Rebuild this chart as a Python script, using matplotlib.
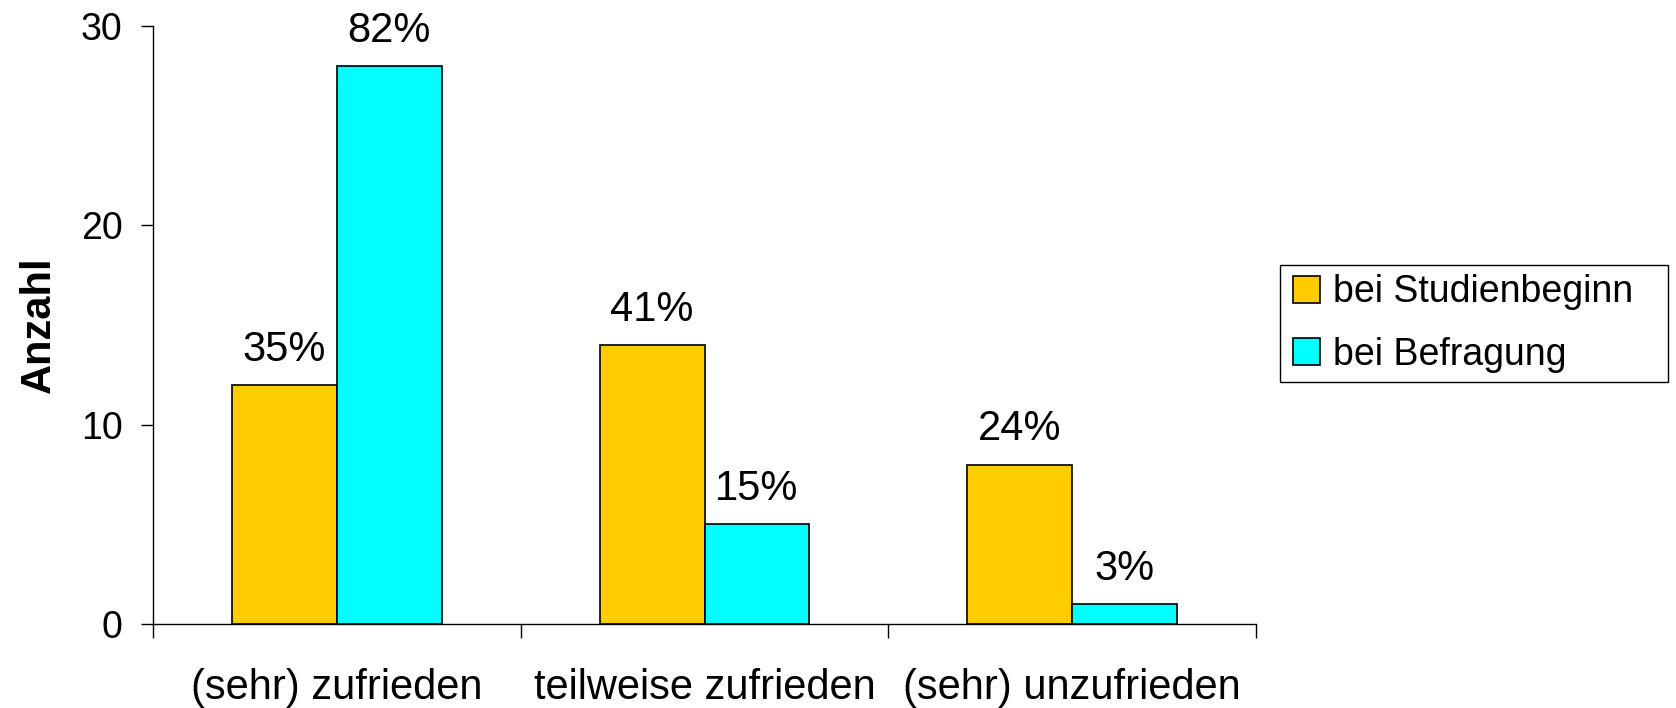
import matplotlib.pyplot as plt
from matplotlib.patches import Rectangle
import numpy as np

plt.rcParams['font.family'] = ['Liberation Sans', 'DejaVu Sans']

# Daten
kategorien = ['(sehr) zufrieden', 'teilweise zufrieden', '(sehr) unzufrieden']
studienbeginn = [12, 14, 8]
befragung = [28, 5, 1]
prozent_beginn = ['35%', '41%', '24%']
prozent_befragung = ['82%', '15%', '3%']
serien = ['bei Studienbeginn', 'bei Befragung']

fig = plt.figure(figsize=(16.76, 7.08), dpi=100)
ax = fig.add_axes([0.0913, 0.1186, 0.6581, 0.8447])

x = np.arange(len(kategorien))
w = 0.285
b1 = ax.bar(x - w / 2, studienbeginn, w, color='#FFCC00', edgecolor='black', linewidth=1.2, label=serien[0])
b2 = ax.bar(x + w / 2, befragung, w, color='#00FFFF', edgecolor='black', linewidth=1.2, label=serien[1])

# Prozentangaben über den Balken
for bars, texte in ((b1, prozent_beginn), (b2, prozent_befragung)):
    for rect, t in zip(bars, texte):
        ax.annotate(t, (rect.get_x() + rect.get_width() / 2, rect.get_height()),
                    xytext=(0, 11), textcoords='offset points',
                    ha='center', va='bottom', fontsize=30)

ax.set_xlim(-0.5, 2.5)
ax.set_ylim(0, 30)
ax.set_yticks([0, 10, 20, 30])
ax.tick_params(axis='y', labelsize=27, length=9, width=1, pad=13)

# Striche an den Gruppengrenzen, Beschriftung in der Mitte
ax.set_xticks([-0.5, 0.5, 1.5, 2.5])
ax.set_xticklabels([])
ax.tick_params(axis='x', which='major', length=10, width=1)
ax.set_xticks(x, minor=True)
ax.set_xticklabels(kategorien, minor=True)
ax.tick_params(axis='x', which='minor', length=0, labelsize=30, pad=32)

for s in ['top', 'right']:
    ax.spines[s].set_visible(False)
ax.spines['left'].set_linewidth(1)
ax.spines['bottom'].set_linewidth(1)

ax.set_ylabel('Anzahl', fontsize=30, fontweight='bold', labelpad=16)

# Legende ohne eigenen Rahmen, Rahmen separat (etwas breiter wie im Original)
leg = fig.legend(loc='center left', bbox_to_anchor=(0.7637, 0.543), fontsize=27,
                 frameon=False, handlelength=0.72, handleheight=0.72,
                 handletextpad=0.35, borderpad=0.35, labelspacing=0.7,
                 borderaxespad=0)
fig.patches.append(Rectangle((0.7637, 0.4605), 0.2315, 0.1653, transform=fig.transFigure,
                             fill=False, edgecolor='black', linewidth=1))

fig.savefig('out.png', dpi=100)
